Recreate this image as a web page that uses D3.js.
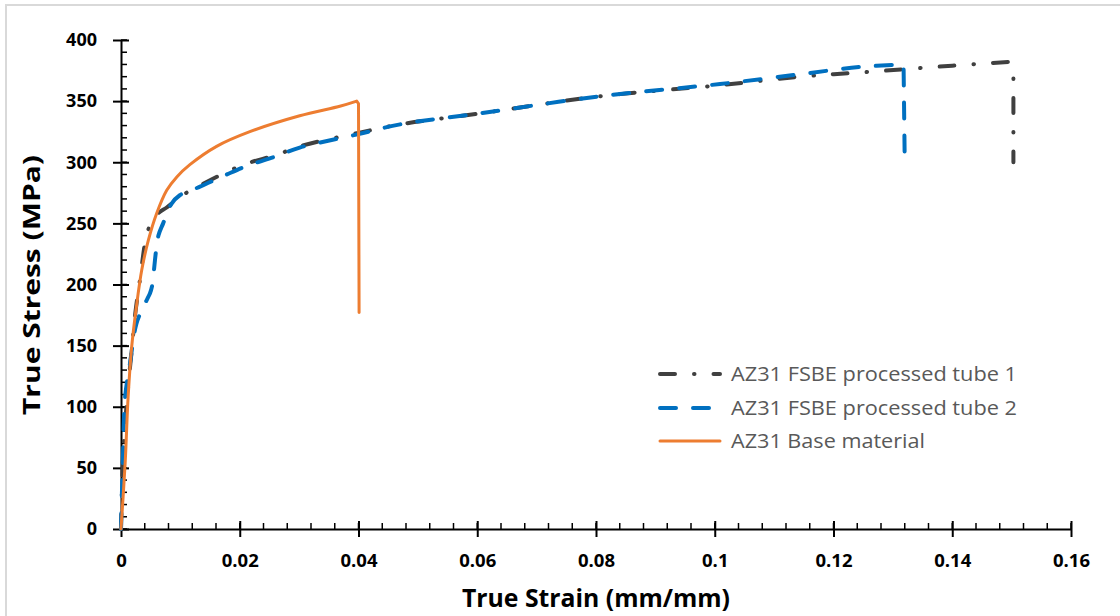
<!DOCTYPE html>
<html><head><meta charset="utf-8">
<script src="https://cdn.jsdelivr.net/npm/d3@7"></script>
<style>
html,body{margin:0;padding:0;background:#fff;}
svg{display:block;}
</style></head>
<body>
<svg id="chart" width="1120" height="616"></svg>
<script>
const tube1Strain = [0, 0.0004, 0.0012, 0.0018, 0.0024, 0.0032, 0.0046, 0.0062, 0.0077, 0.0100, 0.0133, 0.0178, 0.0212, 0.0262, 0.0301, 0.0400, 0.0470, 0.0605, 0.0807, 0.1009, 0.1144, 0.1261, 0.1400, 0.1494, 0.1503, 0.1503];
const tube1Stress = [0, 65, 116, 146, 176, 204, 245, 258, 263, 272, 281, 292, 299, 306, 313, 324, 331, 340, 354, 363, 370, 374, 379, 382, 378, 300];
const tube2Strain = [0, 0.0003, 0.0007, 0.0015, 0.0026, 0.0038, 0.0049, 0.0052, 0.0063, 0.0071, 0.0085, 0.0099, 0.0133, 0.0178, 0.0212, 0.0262, 0.0301, 0.0400, 0.0470, 0.0605, 0.0807, 0.1009, 0.1144, 0.1245, 0.1318, 0.1320];
const tube2Stress = [0, 54, 108, 135, 168, 182, 193, 198, 240, 250, 266, 273, 280, 290, 297, 305, 312, 323, 331, 340, 354, 364, 372, 378, 380, 299];
const baseStrain = [0, 0.0007, 0.0012, 0.0018, 0.0026, 0.0035, 0.0046, 0.0060, 0.0077, 0.0094, 0.0116, 0.0161, 0.0217, 0.0301, 0.0370, 0.0397, 0.0400, 0.0401];
const baseStress = [0, 54, 108, 149, 182, 212, 236, 258, 277, 288, 298, 313, 325, 338, 346, 350, 348, 177];
const seriesNames = ["AZ31 FSBE processed tube 1", "AZ31 FSBE processed tube 2", "AZ31 Base material"];
const xTicks = [0, 0.02, 0.04, 0.06, 0.08, 0.1, 0.12, 0.14, 0.16];
const yTicks = [0, 50, 100, 150, 200, 250, 300, 350, 400];
const xTitle = "True Strain (mm/mm)";
const yTitle = "True Stress (MPa)";

const svg = d3.select("#chart");
svg.append("rect").attr("x",6).attr("y",5).attr("width",1130).attr("height",630)
  .attr("fill","none").attr("stroke","#d9d9d9").attr("stroke-width",2);

const x = d3.scaleLinear().domain([0,0.16]).range([121,1071]);
const y = d3.scaleLinear().domain([0,400]).range([529,40]);

const series = [
  {name:seriesNames[0], xs:tube1Strain, ys:tube1Stress, color:"#404040", width:4, dash:"15,19,0.5,19", legLen:286},
  {name:seriesNames[1], xs:tube2Strain, ys:tube2Stress, color:"#0070C0", width:4, dash:"16,17", legLen:286},
  {name:seriesNames[2], xs:baseStrain, ys:baseStress, color:"#ED7D31", width:3, dash:null, legLen:194}
];

const tickFont = "'Open Sans', 'Liberation Sans', sans-serif";
const g = svg.append("g");

const xMinor = d3.range(0, 0.1600001, 0.004);
g.selectAll(".xminor").data(xMinor).enter().append("line")
  .attr("x1",d=>x(d)).attr("x2",d=>x(d)).attr("y1",y(0)).attr("y2",y(0)-6)
  .attr("stroke","#000").attr("stroke-width",1.5);
const yMinor = d3.range(0, 400.0001, 10);
g.selectAll(".yminor").data(yMinor).enter().append("line")
  .attr("x1",x(0)).attr("x2",x(0)+6).attr("y1",d=>y(d)).attr("y2",d=>y(d))
  .attr("stroke","#000").attr("stroke-width",1.5);

const xAxis = d3.axisBottom(x).tickValues(xTicks).tickFormat(d=>String(d)).tickSizeInner(6).tickSizeOuter(0).tickPadding(19);
const gx = g.append("g").attr("transform",`translate(0,${y(0)})`).call(xAxis);
gx.select(".domain").attr("stroke","#000").attr("stroke-width",2);
gx.selectAll(".tick line").attr("stroke","#000").attr("stroke-width",2).attr("y1",-8).attr("y2",8);
gx.selectAll(".tick text").attr("font-family",tickFont).attr("font-size",18.5).attr("font-weight","bold").attr("fill","#000");

const yAxis = d3.axisLeft(y).tickValues(yTicks).tickSizeInner(8).tickSizeOuter(0).tickPadding(16);
const gy = g.append("g").attr("transform",`translate(${x(0)},0)`).call(yAxis);
gy.select(".domain").attr("stroke","#000").attr("stroke-width",2);
gy.selectAll(".tick line").attr("stroke","#000").attr("stroke-width",2).attr("x1",8).attr("x2",-8);
gy.selectAll(".tick text").attr("font-family",tickFont).attr("font-size",18).attr("font-weight","bold").attr("fill","#000");

// smooth rising part up to peak, then straight segments for the fracture drop
series.forEach(s=>{
  const pts = s.xs.map((v,i)=>[v,s.ys[i]]);
  const peak = d3.maxIndex(s.ys);
  const smooth = d3.line().x(d=>x(d[0])).y(d=>y(d[1])).curve(d3.curveCatmullRom.alpha(0.5))(pts.slice(0,peak+1));
  const tail = pts.slice(peak+1).map(d=>`L${x(d[0])},${y(d[1])}`).join("");
  g.append("path").attr("d", smooth + tail)
    .attr("fill","none").attr("stroke",s.color).attr("stroke-width",s.width)
    .attr("stroke-linecap","round").attr("stroke-linejoin","round")
    .attr("stroke-dasharray",s.dash);
});

svg.append("text").attr("x",596).attr("y",606.5).attr("text-anchor","middle")
  .attr("font-family",tickFont).attr("font-size",25).attr("font-weight","bold").attr("fill","#000")
  .attr("textLength",268).attr("lengthAdjust","spacingAndGlyphs").text(xTitle);
svg.append("text").attr("transform","translate(40,285) rotate(-90)").attr("text-anchor","middle")
  .attr("font-family",tickFont).attr("font-size",24).attr("font-weight","bold").attr("fill","#000")
  .attr("textLength",260).attr("lengthAdjust","spacingAndGlyphs").text(yTitle);

const leg = svg.append("g");
const legY = [374, 408, 441];
series.forEach((s,i)=>{
  leg.append("line").attr("x1",660).attr("x2",720).attr("y1",legY[i]).attr("y2",legY[i])
    .attr("stroke",s.color).attr("stroke-width",s.width).attr("stroke-linecap","round")
    .attr("stroke-dasharray",s.dash);
  leg.append("text").attr("x",731).attr("y",legY[i]).attr("dy","0.35em")
    .attr("font-family",tickFont).attr("font-size",20).attr("fill","#595959")
    .attr("textLength",s.legLen).attr("lengthAdjust","spacingAndGlyphs").text(s.name);
});
</script>
</body></html>
